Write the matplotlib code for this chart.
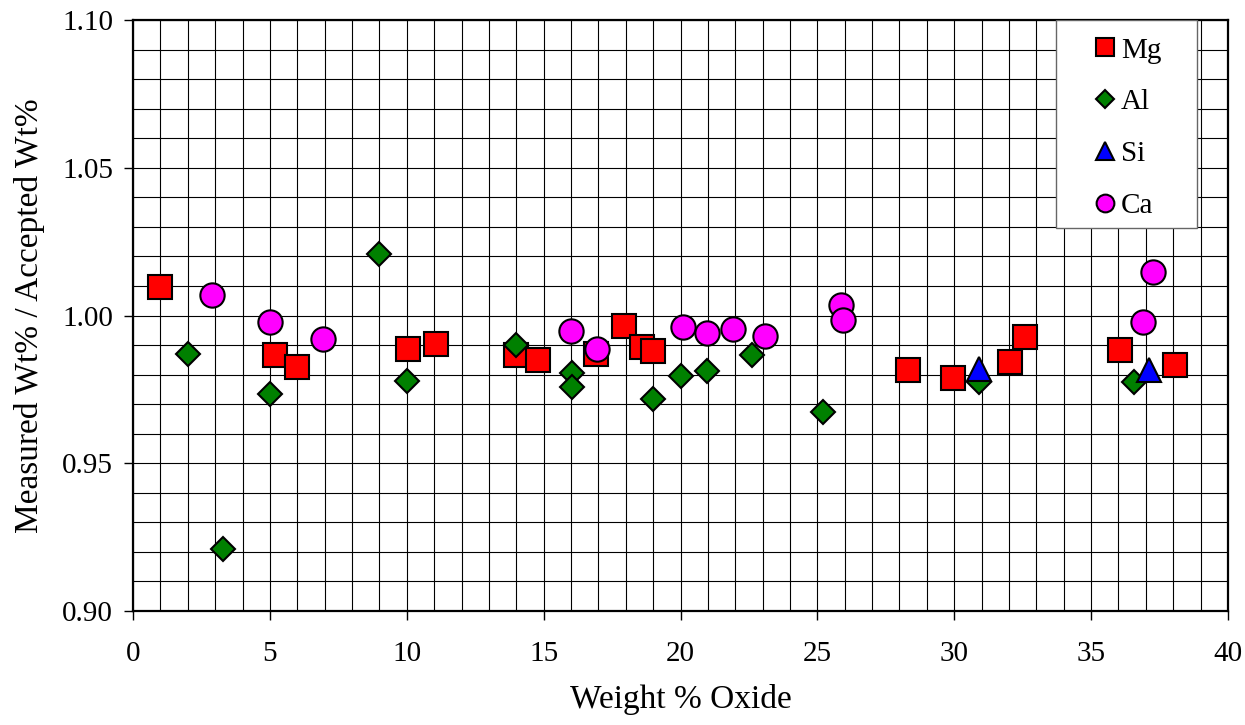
import matplotlib

matplotlib.use("Agg")
import matplotlib.pyplot as plt
from matplotlib.patches import Rectangle
from matplotlib.ticker import MultipleLocator, FormatStrFormatter

plt.rcParams["font.family"] = ["Liberation Serif", "DejaVu Serif"]

# values
mg_x = [1.0, 5.2, 6.0, 10.05, 11.05, 14.0, 14.8, 16.9, 17.95, 18.6, 19.0,
        28.3, 29.95, 32.05, 32.6, 36.05, 38.05]
mg_y = [1.0097, 0.9868, 0.9826, 0.9887, 0.9903, 0.9868, 0.9849, 0.9871,
        0.9964, 0.9892, 0.9880, 0.9817, 0.9787, 0.9844, 0.9928, 0.9883, 0.9833]

al_x = [2.0, 3.3, 5.0, 9.0, 10.0, 14.0, 16.05, 16.05, 19.0, 20.0, 20.95,
        22.6, 25.2, 30.9, 36.55]
al_y = [0.9869, 0.9211, 0.9734, 1.0208, 0.9778, 0.9899, 0.9804, 0.9759,
        0.9716, 0.9795, 0.9812, 0.9868, 0.9673, 0.9776, 0.9776]

si_x = [30.9, 37.1]
si_y = [0.9819, 0.9816]

ca_x = [2.9, 5.0, 6.95, 16.0, 16.95, 20.1, 20.95, 21.9, 23.1, 25.85, 25.95,
        36.9, 37.25]
ca_y = [1.0069, 0.9977, 0.9919, 0.9949, 0.9887, 0.9960, 0.9941, 0.9954,
        0.9930, 1.0035, 0.9984, 0.9977, 1.0148]

series = [
    ("Mg", mg_x, mg_y, "s", "#ff0000", 17.5),
    ("Al", al_x, al_y, "D", "#008000", 12.5),
    ("Si", si_x, si_y, "^", "#0000ff", 17.5),
    ("Ca", ca_x, ca_y, "o", "#ff00ff", 17.5),
]

fig = plt.figure(figsize=(12.45, 7.25), dpi=100)
ax = fig.add_axes([0.1069, 0.1572, 0.8794, 0.8152])

for label, xs, ys, marker, color, size in series:
    ax.plot(xs, ys, linestyle="none", marker=marker, markersize=size,
            markerfacecolor=color, markeredgecolor="black",
            markeredgewidth=1.5, label=label, zorder=3, clip_on=False)

ax.set_xlim(0, 40)
ax.set_ylim(0.90, 1.10)
ax.xaxis.set_major_locator(MultipleLocator(5))
ax.xaxis.set_minor_locator(MultipleLocator(1))
ax.yaxis.set_major_locator(MultipleLocator(0.05))
ax.yaxis.set_minor_locator(MultipleLocator(0.01))
ax.yaxis.set_major_formatter(FormatStrFormatter("%.2f"))
ax.grid(True, which="both", color="black", linewidth=0.8, zorder=0)
ax.set_axisbelow(True)
ax.tick_params(which="major", direction="out", length=6.5, width=1.0,
               labelsize=21, pad=8)
ax.tick_params(axis="x", which="major", pad=15)
ax.tick_params(which="minor", length=0)
for sp in ax.spines.values():
    sp.set_linewidth(1.6)

ax.set_xlabel("Weight % Oxide", fontsize=24, labelpad=12)
ax.set_ylabel("Measured Wt% / Accepted Wt%", fontsize=24, labelpad=12)

# legend box
ax.add_patch(Rectangle((0.843, 0.648), 0.1287, 0.352, transform=ax.transAxes,
                       facecolor="white", edgecolor="0.4", linewidth=1.0,
                       zorder=4))
leg = ax.legend(loc="upper left", bbox_to_anchor=(0.8777, 0.971),
                frameon=False, fontsize=21, markerscale=0.73,
                handlelength=0.75, handletextpad=0.17, labelspacing=0.87,
                borderpad=0, borderaxespad=0)
leg.set_zorder(5)

fig.savefig("out.png", dpi=100)
